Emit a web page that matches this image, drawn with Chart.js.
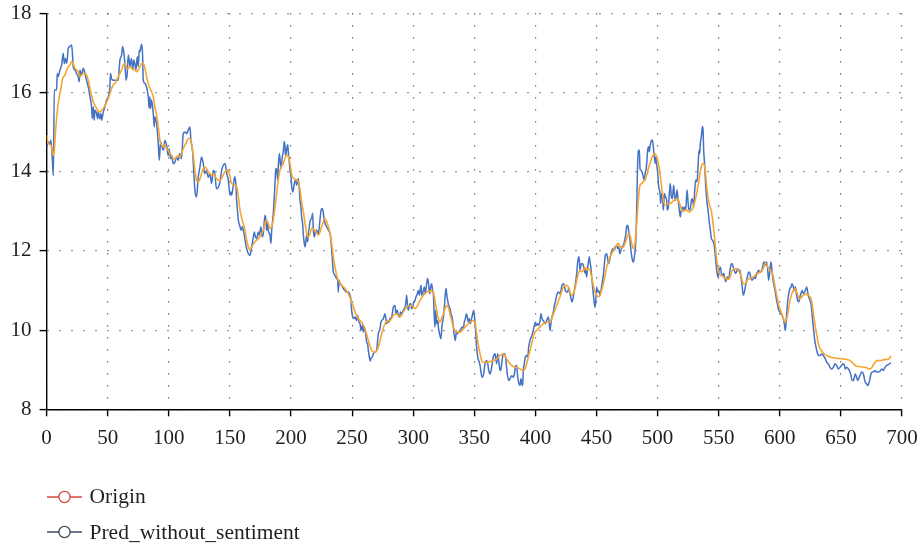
<!DOCTYPE html>
<html>
<head>
<meta charset="utf-8">
<script src="https://cdn.jsdelivr.net/npm/chart.js@4.4.1/dist/chart.umd.min.js"></script>
<style>
  html, body { margin: 0; padding: 0; background: #ffffff; }
  #wrap { position: relative; width: 920px; height: 546px; overflow: hidden; }
  #chart { position: absolute; left: 0; top: 0; }
  .legend-item {
    position: absolute; left: 46.5px; height: 36px;
    display: flex; align-items: center;
    font-family: "Liberation Serif", "Times New Roman", serif;
    font-size: 21.5px; color: #231f20; white-space: nowrap;
  }
  .legend-item svg { margin-right: 8px; flex: none; }
</style>
</head>
<body>
<div id="wrap">
  <canvas id="chart" width="920" height="546"></canvas>
</div>
<script>
// x axis ticks (step index) and y axis ticks (price)
const xTicks = [0, 50, 100, 150, 200, 250, 300, 350, 400, 450, 500, 550, 600, 650, 700];
const yTicks = [8, 10, 12, 14, 16, 18];

// Observed series: [step, value]
const originSeries = [
  [0,14.60],[1.4,14.75],[2.7,14.70],[3.5,14.80],[4.6,14.37],[5.5,13.90],[6.3,16.06],[8.2,16.06],[8.7,16.48],[9.5,16.40],
  [10.9,16.57],[12.3,16.69],[13.6,16.99],[14.5,16.73],[15.5,16.86],[16.4,16.73],[17.7,17.11],[19.0,17.16],[20.5,17.20],[21.3,16.90],
  [21.8,16.65],[23.2,16.57],[24.5,16.48],[25.9,16.40],[26.7,16.27],[27.3,16.57],[28.6,16.44],[30.0,16.61],[31.4,16.48],[32.7,16.31],
  [34.1,16.14],[35.5,15.89],[36.8,15.64],[37.4,15.34],[38.2,15.64],[39.0,15.30],[39.5,15.55],[40.9,15.47],[41.7,15.34],[42.3,15.51],
  [43.6,15.34],[44.5,15.47],[45.0,15.30],[46.4,15.51],[47.7,15.64],[49.1,15.81],[50.5,15.89],[51.8,16.14],[52.3,16.48],[53.2,16.35],
  [54.5,16.31],[55.9,16.31],[57.3,16.31],[58.6,16.31],[59.5,16.65],[60.0,16.82],[61.4,16.95],[62.2,17.16],[63.3,16.99],[64.1,16.73],
  [65.0,16.31],[66.0,16.48],[66.8,16.95],[67.6,16.82],[68.2,16.65],[69.5,16.86],[70.5,16.57],[71.4,16.82],[72.2,16.73],[73.1,16.57],
  [74.2,16.90],[75.0,16.65],[75.8,17.07],[76.4,17.03],[77.7,17.22],[78.5,16.99],[79.1,16.31],[80.5,16.23],[81.8,16.14],[83.2,15.89],
  [84.0,15.60],[84.5,15.89],[85.1,15.60],[85.9,15.81],[87.3,15.47],[88.1,15.13],[88.6,15.38],[90.0,15.22],[91.4,14.71],[92.2,14.29],
  [93.3,14.75],[94.1,14.67],[95.5,14.54],[96.8,14.79],[98.2,14.67],[99.5,14.41],[100.3,14.58],[101.5,14.33],[102.3,14.41],[103.6,14.20],
  [105.0,14.24],[106.4,14.37],[107.7,14.29],[109.0,14.46],[110.4,14.33],[111.8,14.96],[113.2,15.00],[114.5,14.96],[115.9,15.05],[117.3,15.13],
  [118.1,14.79],[119.4,14.54],[120.5,13.95],[121.4,13.53],[122.7,13.36],[124.1,13.86],[125.5,14.12],[126.8,14.37],[128.2,14.20],[129.5,13.95],
  [130.9,14.03],[132.3,13.86],[133.6,13.95],[135.0,13.70],[136.4,14.03],[137.7,13.95],[139.0,13.57],
  [140.0,13.58],[141.9,13.75],[143.3,14.04],[146.0,14.21],[147.4,13.96],[148.7,13.79],[150.1,13.41],[150.9,13.49],[151.4,13.41],[152.8,13.66],
  [153.6,13.83],[154.2,13.87],[155.0,13.62],[155.5,13.28],[156.4,12.95],[156.9,12.78],[158.3,12.61],[159.1,12.52],[160.2,12.61],[161.0,12.52],
  [161.8,12.40],[162.4,12.27],[163.7,12.06],[165.1,11.93],[166.4,11.89],[167.8,12.10],[169.2,12.35],[170.0,12.48],[170.5,12.40],[171.9,12.31],
  [173.3,12.48],[174.1,12.40],[175.4,12.61],[176.5,12.35],[177.3,12.44],[178.7,12.90],[179.5,12.78],[180.1,12.52],[180.9,12.69],[181.4,12.52],
  [182.8,12.40],[183.6,12.19],[184.2,12.52],[185.0,12.78],[185.5,12.95],[186.4,13.41],[186.9,13.70],[187.5,14.08],[188.3,14.04],[189.1,13.79],
  [189.6,14.13],[190.5,14.46],[191.3,14.21],[191.8,14.08],[192.9,14.38],[193.7,14.50],[194.5,14.76],[195.1,14.63],[195.6,14.38],[196.4,14.55],
  [197.3,14.68],[197.8,14.50],[198.4,14.30],[199.2,14.04],[200.0,13.87],[200.6,13.62],[201.4,13.49],[201.9,13.54],[202.7,13.70],[203.8,13.79],
  [204.6,13.66],[206.0,13.83],[207.4,13.28],[208.2,13.07],[208.7,12.86],[209.5,12.69],[210.1,12.40],[210.9,12.19],[211.5,12.10],[212.3,12.27],
  [212.8,12.40],[213.6,12.23],[214.2,12.44],[215.0,12.61],[215.8,12.78],[216.9,12.82],[217.7,12.95],[218.3,12.52],[219.1,12.35],[219.6,12.44],
  [221.0,12.52],[222.4,12.44],[223.7,12.78],[224.6,13.03],[225.6,13.07],[226.5,12.95],[227.3,12.78],[228.4,12.65],[229.2,12.61],[230.6,12.52],
  [231.4,12.48],[232.2,12.40],[233.3,12.02],[234.1,11.68],[234.6,11.47],[236.0,11.38],[237.4,11.30],[238.2,11.26],[238.7,10.96],[239.3,11.26],
  [240.1,11.17],[241.5,11.13],[242.8,11.05],[244.2,11.00],[245.5,10.96],[246.9,10.96],[248.3,10.88],[249.1,10.75],[249.6,10.50],[250.5,10.33],
  [251.3,10.29],[252.4,10.33],[253.7,10.24],[254.5,10.37],[255.6,10.20],[256.5,10.16],[257.3,9.99],[258.4,10.12],[259.2,9.95],[260.0,10.08],
  [261.1,9.91],[261.9,9.70],[262.7,9.65],[263.3,9.49],[264.1,9.32],[264.9,9.22],[265.5,9.30],[266.6,9.32],[267.4,9.40],[268.7,9.44],
  [270.1,9.49],[270.9,9.74],[271.5,9.91],[272.8,10.03],[273.6,10.20],[274.2,10.24],[275.6,10.29],[276.9,10.41],[277.5,10.33],[278.3,10.16],
  [279.1,10.24],[280.2,10.20],
  [281.0,10.29],[282.4,10.33],[283.7,10.58],[285.1,10.62],[285.9,10.41],[287.0,10.50],[287.8,10.37],[288.7,10.33],[289.7,10.46],[290.6,10.41],
  [291.9,10.50],[293.3,10.58],[294.1,10.71],[294.6,10.88],[295.5,10.58],[296.0,10.50],[296.8,10.62],[297.9,10.67],[298.7,10.54],[299.6,10.58],
  [300.1,10.67],[301.5,10.75],[302.3,10.84],[303.4,10.92],[304.2,11.00],[305.0,10.88],[305.6,11.00],[306.4,11.13],[306.9,10.88],[307.7,10.92],
  [308.3,11.00],[309.1,11.09],[309.9,10.92],[311.0,11.17],[311.8,11.30],[312.6,11.17],[313.5,10.92],[314.3,11.09],[315.1,11.17],[315.9,11.00],
  [316.5,10.92],[317.3,10.29],[317.8,10.08],[318.4,10.50],[319.2,10.16],[320.0,10.24],[320.8,10.03],[321.9,9.86],[322.7,9.78],[323.6,10.12],
  [324.7,10.33],[325.5,10.58],[326.3,10.92],[326.8,11.05],[327.4,10.92],[328.2,10.75],[329.0,10.62],[330.1,10.54],[330.9,10.41],[331.8,10.33],
  [332.8,10.08],[333.7,9.86],[334.5,9.74],[335.3,9.95],[336.1,9.91],[337.2,9.95],[338.3,9.99],[339.1,10.03],[339.9,10.08],[341.0,10.03],
  [341.8,10.20],[342.7,10.29],[343.5,10.41],[344.3,10.33],[345.1,10.20],[345.9,10.29],[346.8,10.16],[347.8,10.29],[348.7,10.41],[349.5,10.50],
  [350.3,10.29],[351.1,9.95],[351.9,9.57],[352.8,9.32],[353.6,9.23],[354.7,9.11],[355.5,8.94],[356.3,8.81],[357.4,8.85],[358.3,9.06],
  [359.1,9.19],[360.1,9.23],[361.0,9.15],[361.8,8.98],[362.9,8.89],[364.2,9.06],[365.6,9.32],[367.0,9.40],[367.8,9.23],[368.3,9.15],
  [369.1,9.40],[370.0,9.23],[371.1,8.98],[371.9,9.02],[372.7,9.23],[373.8,9.40],[374.9,9.40],[375.9,9.23],[377.0,8.89],[378.1,8.73],
  [379.2,8.77],[380.6,8.85],[381.9,8.81],[382.8,8.89],[383.6,9.06],[384.7,9.11],[385.5,8.81],[386.3,8.68],[387.4,8.60],[388.2,8.77],
  [389.0,8.64],[389.6,8.60],[390.1,8.98],[390.9,9.15],[391.8,9.32],[392.9,9.36],[393.7,9.32],[394.5,9.57],[395.6,9.74],[397.0,9.86],
  [398.3,9.99],[399.1,10.12],[399.9,10.20],[401.0,10.12],[401.9,10.16],[402.7,10.12],[403.8,10.24],[404.6,10.41],[405.4,10.29],[406.5,10.24],
  [407.3,10.20],[408.1,10.16],[409.2,10.24],[410.6,10.33],[411.4,10.16],[411.9,9.99],[412.8,10.20],[413.6,10.33],[414.7,10.46],[415.5,10.62],
  [416.3,10.71],[417.4,10.88],[418.8,10.96],[420.1,10.92],
  [421.8,11.13],[422.9,11.17],[423.7,11.13],[424.5,11.00],[425.6,10.96],[426.4,10.96],[427.2,11.05],[428.3,10.92],[429.1,10.80],[429.9,10.71],
  [431.0,10.84],[431.9,11.00],[432.7,11.17],[433.8,11.43],[434.6,11.72],[435.4,11.85],[436.0,11.76],[436.5,11.51],[437.3,11.64],[438.2,11.68],
  [439.2,11.64],[440.0,11.51],[440.9,11.43],[441.4,11.55],[441.9,11.34],[442.8,11.59],[443.6,11.76],[444.1,11.85],[444.7,11.72],[445.5,11.55],
  [446.3,11.26],[447.4,10.92],[448.2,10.67],[449.0,10.58],[450.1,11.09],[451.0,10.96],[451.8,11.00],[452.9,10.88],[453.7,11.00],[454.5,11.17],
  [455.6,11.38],[456.4,11.64],[457.2,11.89],[458.3,11.93],[459.1,11.81],[460.0,11.68],[461.0,11.81],[461.9,11.93],[462.7,12.02],[463.8,12.06],
  [464.6,12.02],[465.4,12.10],[466.5,12.14],[467.3,12.06],[468.1,12.10],[469.2,11.93],[470.0,12.02],[470.9,12.10],[472.0,12.14],[472.8,12.23],
  [473.6,12.35],[474.7,12.61],[475.5,12.65],[476.3,12.52],[477.4,12.27],[478.2,12.02],[479.1,11.81],[480.1,11.72],[481.0,11.85],[481.8,12.10],
  [482.3,12.35],[482.9,13.03],[483.4,13.87],[484.2,14.51],[485.1,14.55],[485.6,14.08],[486.4,14.04],[487.2,14.00],[488.3,13.87],[489.1,13.79],
  [490.0,14.00],[490.5,14.04],[491.1,14.21],[491.9,14.55],[492.7,14.63],[493.2,14.51],[493.8,14.63],[494.6,14.76],[495.4,14.80],[496.0,14.76],
  [496.5,14.63],[497.3,14.38],[498.1,14.21],[498.7,14.38],[499.2,14.21],[500.1,13.96],[500.9,13.62],[502.0,13.45],[502.5,13.20],[503.3,13.45],
  [504.1,13.37],[504.7,13.03],[505.5,13.45],[506.3,13.37],[507.4,13.28],[508.0,13.03],[508.8,13.11],[509.6,13.45],[510.4,13.70],[511.2,13.37],
  [512.1,13.32],[513.1,13.66],[514.0,13.37],[514.8,13.28],[515.9,13.54],[516.7,13.32],[517.5,13.11],[518.6,12.86],[519.4,13.03],[520.3,13.11],
  [521.3,13.03],[522.2,13.11],[523.0,13.03],[524.1,13.54],[524.9,13.24],[525.7,13.03],[526.8,13.07],[527.7,13.28],[528.5,13.32],[529.6,13.11],
  [530.4,13.54],[531.2,13.79],[532.3,13.75],[533.1,14.13],[533.9,14.55],[534.5,14.46],[535.0,14.72],[535.8,14.89],[536.7,15.14],[537.2,15.05],
  [537.7,14.55],[538.6,14.13],[539.4,13.62],[540.5,13.20],[541.3,13.03],[542.1,12.78],[543.2,12.52],[544.0,12.31],[544.9,12.27],[546.0,12.19],
  [546.8,12.02],[547.6,11.76],[548.7,11.43],[549.5,11.34],[550.3,11.51],[551.4,11.59],[552.2,11.43],[553.1,11.38],[554.2,11.43],[555.0,11.30],
  [555.8,11.22],[556.9,11.34],[558.3,11.30],
  [559.2,11.51],[560.0,11.64],[560.8,11.68],[561.9,11.59],[562.8,11.51],[563.6,11.43],[564.6,11.47],[565.5,11.55],[566.3,11.51],[567.4,11.51],
  [568.2,11.34],[569.0,11.17],[570.1,10.88],[571.0,10.96],[571.8,11.09],[572.9,11.26],[573.7,11.38],[574.5,11.47],[575.6,11.43],[576.4,11.30],
  [577.3,11.26],[578.3,11.30],[579.2,11.34],[580.0,11.30],[581.1,11.43],[581.9,11.47],[582.7,11.51],[583.8,11.47],[584.6,11.47],[585.4,11.51],
  [586.5,11.68],[587.4,11.72],[588.2,11.64],[589.3,11.72],[590.1,11.51],[590.9,11.26],[592.0,11.55],[592.8,11.72],[593.6,11.51],[594.7,11.22],
  [595.5,11.09],[596.3,10.96],[597.4,10.75],[598.3,10.62],[599.1,10.50],[600.2,10.46],[601.0,10.41],[601.8,10.37],[602.9,10.29],[603.7,10.16],
  [604.5,9.99],[605.1,10.16],[605.6,10.41],[606.4,10.71],[607.3,10.92],[608.3,11.05],[609.2,11.09],[610.0,11.17],[611.1,11.09],[611.9,11.00],
  [612.7,11.09],[613.8,10.88],[614.6,10.75],[615.4,10.71],[616.5,10.84],[617.3,10.92],[618.2,11.00],[619.3,10.92],[620.1,10.96],[620.9,11.00],
  [622.0,11.09],[622.8,10.96],[623.6,10.84],[624.7,10.75],[625.5,10.67],[626.4,10.41],[627.4,10.08],[628.3,9.82],[629.1,9.65],[630.2,9.49],
  [631.0,9.40],[631.8,9.36],[632.9,9.36],[634.3,9.40],[635.6,9.36],[636.4,9.32],[637.3,9.27],[638.4,9.19],[639.7,9.15],[641.1,9.06],
  [642.4,9.02],[643.8,9.06],[645.2,9.15],[646.5,9.11],[647.9,9.02],[649.3,9.06],[650.6,9.11],[652.0,9.15],[652.8,9.11],[653.6,9.02],
  [654.7,9.06],[656.1,9.02],[657.4,8.94],[658.3,8.85],[659.1,8.73],[660.2,8.73],[661.0,8.81],[661.8,8.89],[662.9,8.81],[663.7,8.73],
  [664.5,8.77],[665.6,8.85],[667.0,8.94],[668.4,8.89],[669.2,8.77],[670.0,8.68],[671.1,8.64],[671.9,8.60],[672.7,8.64],[673.8,8.77],
  [674.6,8.89],[675.5,8.94],[676.5,8.94],[677.9,8.98],[679.3,8.94],[680.6,8.94],[682.0,8.96],[683.4,9.02],[684.7,8.98],[686.1,9.06],
  [687.5,9.11],[688.8,9.13],[690.2,9.16],[691.0,9.17]
];

// Model output without sentiment features: [step, value]
const predSeries = [
  [0,14.92],[1.4,14.71],[2.7,14.69],[4.1,14.62],[5.5,14.41],[6.3,14.54],[7.6,15.13],[9.0,15.60],[10.4,15.89],[11.7,16.10],
  [13.1,16.35],[15.0,16.44],[16.4,16.57],[17.7,16.65],[19.1,16.69],[20.5,16.78],[21.8,16.73],[23.2,16.61],[24.5,16.57],[25.9,16.52],
  [27.3,16.40],[28.6,16.44],[30.0,16.48],[31.4,16.48],[32.7,16.44],[34.1,16.31],[35.5,16.10],[36.8,15.93],[38.2,15.76],[39.5,15.68],
  [40.9,15.60],[42.3,15.53],[43.6,15.51],[45.0,15.55],[46.4,15.60],[47.7,15.66],[49.1,15.76],[50.5,15.85],[51.8,15.97],[53.2,16.10],
  [54.5,16.19],[55.9,16.23],[57.3,16.31],[58.6,16.40],[60.0,16.48],[61.4,16.57],[62.7,16.69],[64.1,16.73],[65.5,16.61],[66.8,16.61],
  [68.2,16.65],[69.5,16.61],[70.9,16.59],[72.3,16.57],[73.6,16.52],[75.0,16.57],[76.4,16.65],[77.7,16.73],[79.1,16.73],[80.5,16.61],
  [81.8,16.40],[83.2,16.23],[84.5,16.10],[85.9,16.02],[87.3,15.89],[88.6,15.64],[90.0,15.43],[91.4,15.13],[92.7,14.79],[94.1,14.67],
  [95.5,14.62],[96.8,14.67],[98.2,14.58],[99.5,14.54],[100.9,14.46],[102.3,14.41],[103.6,14.33],[105.0,14.33],[106.4,14.37],[107.7,14.41],
  [109.0,14.37],[110.4,14.46],[111.8,14.58],[113.2,14.67],[114.5,14.75],[115.9,14.84],[117.3,14.84],[118.6,14.71],[120.0,14.41],[121.4,14.03],
  [122.7,13.78],[124.1,13.74],[125.5,13.82],[126.8,13.95],[128.2,14.08],[129.5,14.12],[130.9,14.08],[132.3,13.99],[133.6,13.95],[135.0,13.91],
  [136.4,13.95],[137.7,13.91],[139.0,13.82],
  [141.9,13.78],[146.0,14.00],[148.7,14.04],[151.4,13.70],[155.5,13.62],[156.9,13.37],[158.3,13.03],[159.7,12.82],[162.4,12.52],[163.7,12.27],
  [165.1,12.10],[166.4,12.02],[167.8,12.10],[170.5,12.23],[173.3,12.31],[176.0,12.44],[177.3,12.52],[178.7,12.69],[180.1,12.78],[181.4,12.69],
  [182.8,12.57],[184.2,12.61],[185.5,12.78],[186.9,13.11],[188.3,13.45],[189.6,13.79],[191.0,14.04],[193.7,14.21],[196.4,14.42],[197.8,14.38],
  [199.2,14.21],[200.6,13.92],[203.3,13.81],[206.0,13.75],[207.4,13.54],[208.7,13.24],[210.1,12.99],[211.5,12.69],[212.8,12.44],[214.2,12.35],
  [215.6,12.44],[216.9,12.57],[219.6,12.52],[222.4,12.40],[225.1,12.61],[227.9,12.82],[230.6,12.61],[232.0,12.44],[233.3,12.19],[234.6,11.85],
  [236.0,11.60],[237.4,11.38],[238.7,11.26],[241.5,11.13],[244.2,11.05],[246.9,10.92],[249.6,10.71],[252.4,10.46],[255.1,10.29],[257.8,10.20],
  [260.6,10.03],[263.3,9.74],[266.0,9.49],[268.7,9.44],[271.5,9.57],[274.2,9.91],[276.9,10.16],[279.6,10.24],
  [281.0,10.24],[283.7,10.37],[286.5,10.41],[289.2,10.33],[291.9,10.46],[294.6,10.58],[297.4,10.62],[300.1,10.58],[301.5,10.54],[302.8,10.58],
  [305.6,10.75],[308.3,10.88],[311.0,10.96],[313.7,10.98],[315.1,10.99],[316.5,10.96],[317.8,10.75],[319.2,10.50],[320.6,10.29],[321.9,10.20],
  [323.3,10.29],[324.7,10.41],[326.0,10.54],[327.4,10.62],[328.7,10.58],[330.1,10.41],[331.5,10.24],[332.8,10.08],[335.6,9.95],[338.3,9.95],
  [341.0,10.03],[343.8,10.12],[346.5,10.20],[349.2,10.24],[350.6,10.20],[351.9,9.91],[353.3,9.62],[354.7,9.40],[356.0,9.23],[357.4,9.19],
  [360.1,9.19],[362.9,9.21],[365.6,9.23],[368.3,9.27],[371.1,9.36],[373.8,9.40],[376.5,9.27],[379.2,9.15],[381.9,9.08],[384.7,9.06],
  [387.4,9.02],[390.1,8.98],[391.5,9.02],[392.9,9.15],[394.2,9.32],[395.6,9.49],[397.0,9.66],[398.3,9.83],[399.7,9.95],[401.0,9.99],
  [403.8,10.08],[406.5,10.16],[409.2,10.20],[411.9,10.20],[413.3,10.29],[414.7,10.41],[416.0,10.50],[417.4,10.62],[420.1,10.84],
  [422.9,11.09],[425.6,11.13],[427.0,11.09],[428.3,10.96],[429.7,10.88],[431.0,10.92],[432.4,11.05],[433.8,11.26],[435.1,11.43],[436.5,11.51],
  [437.9,11.47],[439.2,11.51],[440.6,11.59],[442.0,11.51],[443.3,11.55],[444.7,11.51],[446.0,11.34],[447.4,11.13],[448.8,10.96],[450.1,10.88],
  [451.5,10.84],[452.9,10.88],[454.2,11.00],[455.6,11.17],[457.0,11.38],[458.3,11.59],[459.7,11.72],[461.0,11.85],[462.4,11.93],[463.8,12.02],
  [465.1,12.10],[466.5,12.14],[467.9,12.19],[469.2,12.10],[470.6,12.08],[472.0,12.10],[473.3,12.19],[474.7,12.31],[476.1,12.44],[477.4,12.40],
  [478.8,12.19],[480.1,12.06],[481.5,12.19],[482.9,12.69],[484.2,13.28],[485.6,13.66],[487.0,13.70],[488.3,13.75],[489.7,13.79],[491.1,13.92],
  [492.4,14.08],[493.8,14.21],[495.1,14.34],[496.5,14.42],[497.9,14.46],[499.2,14.38],[500.6,14.21],[502.0,13.96],[503.3,13.62],[504.7,13.28],
  [506.1,13.16],[507.4,13.16],[508.8,13.20],[510.2,13.20],[511.5,13.22],[512.9,13.27],[514.3,13.28],[515.6,13.32],[517.0,13.28],[518.4,13.16],
  [519.7,13.03],[521.1,12.99],[522.5,13.03],[523.8,13.03],[525.2,12.99],[526.6,12.99],[527.9,13.03],[529.3,13.11],[530.7,13.28],[532.0,13.45],
  [533.4,13.70],[534.7,13.96],[536.1,14.17],[537.5,14.21],[538.9,14.04],[540.2,13.62],[541.6,13.28],[543.0,13.11],[544.3,12.95],[545.7,12.61],
  [547.1,12.19],[548.4,11.76],[549.8,11.51],[551.1,11.38],[552.5,11.38],[553.9,11.34],[555.2,11.30],[556.6,11.30],[558.0,11.28],
  [559.2,11.34],[560.6,11.47],[562.0,11.55],[563.4,11.55],[564.7,11.55],[566.1,11.51],[567.4,11.43],[568.8,11.30],[570.1,11.17],[571.5,11.17],
  [572.9,11.22],[574.3,11.30],[575.6,11.30],[577.0,11.33],[578.3,11.34],[579.7,11.38],[581.1,11.43],[582.4,11.43],[583.8,11.47],[585.2,11.51],
  [586.5,11.55],[587.9,11.68],[589.3,11.68],[590.6,11.55],[592.0,11.51],[593.4,11.47],[594.7,11.34],[596.1,11.09],[597.5,10.88],[598.8,10.67],
  [600.2,10.54],[601.6,10.41],[602.9,10.29],[604.3,10.20],[605.7,10.29],[607.0,10.50],[608.4,10.75],[609.8,10.92],[611.1,11.00],[612.5,11.05],
  [613.9,10.96],[615.2,10.84],[616.6,10.79],[618.0,10.84],[619.3,10.88],[620.7,10.92],[622.1,10.90],[623.4,10.88],[624.8,10.84],[626.2,10.71],
  [627.5,10.41],[628.9,10.12],[630.3,9.87],[631.6,9.65],[633.0,9.53],[634.4,9.47],[635.7,9.42],[637.1,9.38],[638.5,9.36],[641.2,9.32],
  [643.9,9.30],[646.7,9.29],[649.4,9.28],[652.1,9.27],[654.8,9.26],[657.6,9.23],[659.0,9.19],[660.3,9.15],[661.7,9.11],[663.1,9.08],
  [665.8,9.08],[668.5,9.06],[671.3,9.05],[672.6,9.02],[674.0,9.02],[675.4,9.06],[676.7,9.13],[678.1,9.19],[679.5,9.23],[682.2,9.23],
  [684.9,9.25],[687.6,9.26],[689.0,9.27],[690.4,9.32],[691.2,9.34]
];

// Legend entries as drawn under the plot
const legendLabels = ['Origin', 'Pred_without_sentiment'];
const legendColors = ['#d2463c', '#3b4a63'];

const FONT = '"Liberation Serif", "Times New Roman", serif';
const INK = '#231f20';

const toPoints = arr => arr.map(([x, y]) => ({ x, y }));

// Keep the plot box fixed: labels may overhang the layout padding
const clearScalePadding = s => {
  s.paddingTop = 0; s.paddingBottom = 0; s.paddingLeft = 0; s.paddingRight = 0;
};

const axisCommon = {
  type: 'linear',
  grid: {
    color: '#555555',
    lineWidth: 1.2,
    drawTicks: true,
    tickLength: 7,
    tickColor: '#000000',
    tickWidth: 1.4,
    tickBorderDash: []
  },
  border: { display: true, color: '#000000', width: 1.4, dash: [1.2, 10.8] },
  ticks: { font: { family: FONT, size: 21 }, color: INK, padding: 7, maxRotation: 0, autoSkip: false }
};

new Chart(document.getElementById('chart'), {
  type: 'line',
  data: {
    datasets: [
      {
        label: 'Pred_without_sentiment',
        data: toPoints(predSeries),
        borderColor: '#f7a530',
        borderWidth: 1.6,
        order: 0
      },
      {
        label: 'Origin',
        data: toPoints(originSeries),
        borderColor: '#4472c4',
        borderWidth: 1.5,
        order: 1
      }
    ]
  },
  options: {
    responsive: false,
    animation: false,
    devicePixelRatio: 1,
    layout: { padding: { left: 0, right: 18, top: 13.3, bottom: 96.7 } },
    elements: {
      point: { radius: 0, hoverRadius: 0 },
      line: { cubicInterpolationMode: 'monotone', fill: false }
    },
    plugins: { legend: { display: false }, tooltip: { enabled: false } },
    scales: {
      x: {
        ...axisCommon,
        min: xTicks[0],
        max: xTicks[xTicks.length - 1],
        ticks: { ...axisCommon.ticks, padding: 10 },
        afterBuildTicks: s => { s.ticks = xTicks.map(v => ({ value: v })); },
        afterFit: s => { s.height = 40; clearScalePadding(s); }
      },
      y: {
        ...axisCommon,
        min: yTicks[0],
        max: yTicks[yTicks.length - 1],
        ticks: { ...axisCommon.ticks, padding: 8 },
        afterBuildTicks: s => { s.ticks = yTicks.map(v => ({ value: v })); },
        afterFit: s => { s.width = 46.6; clearScalePadding(s); }
      }
    }
  }
});

// Legend rows under the plot: short line with a hollow circle, then the label
const wrap = document.getElementById('wrap');
const rowCenters = [496.7, 532.3];
legendLabels.forEach((label, i) => {
  const row = document.createElement('div');
  row.className = 'legend-item';
  row.style.top = (rowCenters[i] - 18) + 'px';
  const c = legendColors[i];
  row.innerHTML =
    '<svg width="35" height="14" viewBox="0 0 35 14">' +
    '<line x1="0" y1="7" x2="35" y2="7" stroke="' + c + '" stroke-width="1.3"/>' +
    '<circle cx="17.5" cy="7" r="5.6" fill="#ffffff" stroke="' + c + '" stroke-width="1.3"/>' +
    '</svg><span>' + label + '</span>';
  wrap.appendChild(row);
});
</script>
</body>
</html>
